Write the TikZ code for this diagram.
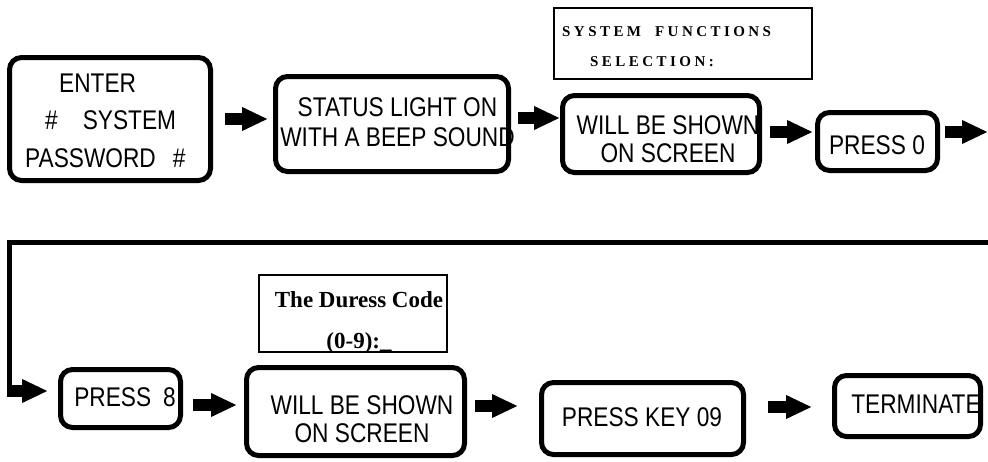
\documentclass[tikz,border=0pt]{standalone}
\usepackage{fontspec}
\usetikzlibrary{arrows.meta}
\newfontfamily\boxfont{Liberation Sans}[FakeStretch=0.84]
\newfontfamily\sysfont{Liberation Serif}[LetterSpace=23]
\newfontfamily\durfont{Liberation Serif}
\tikzset{
  rbox/.style={draw, line width=5pt, rounded corners=12pt, inner sep=0pt, outer sep=0pt},
  sbox/.style={draw, line width=2pt, inner sep=0pt, outer sep=0pt},
  btext/.style={inner sep=0pt, align=center, font=\boxfont\fontsize{27}{30}\selectfont},
  barrow/.style={line width=12.5pt, -{Triangle[length=26pt,width=22pt]}},
  loopline/.style={line width=5pt}
}
\begin{document}
\begin{tikzpicture}[x=1pt,y=-1pt]
\useasboundingbox (0,0) rectangle (988,461);
% texts
\node[btext, anchor=west, align=left, font=\boxfont\fontsize{27}{37.5}\selectfont] (t1) at (25,120.5)
  {\hspace{34pt}ENTER\\\hspace{20pt}\#\hspace{25pt}SYSTEM\\PASSWORD\hspace{17pt}\#};
\node[btext] (t2) at (397.5,122) {STATUS LIGHT ON\\WITH A BEEP SOUND};
\node[btext, font=\boxfont\fontsize{27}{28}\selectfont] (t3) at (668,139) {WILL BE SHOWN\\ON SCREEN};
\node[btext] (t4) at (877,145) {PRESS 0};
\node[inner sep=0pt, anchor=west, align=left, font=\sysfont\bfseries\fontsize{15}{30}\selectfont] (tsys) at (562,47)
  {SYSTEM\hspace{14pt}FUNCTIONS\\\hspace{28pt}SELECTION:};
\node[btext] (t5) at (125,397) {PRESS\hspace{12pt}8};
\node[inner sep=0pt, align=center, font=\durfont\bfseries\fontsize{23}{41}\selectfont] (tdur) at (359,322)
  {The Duress Code\\(0-9):\_};
\node[btext, font=\boxfont\fontsize{27}{28}\selectfont] (t6) at (362,419) {WILL BE SHOWN\\ON SCREEN};
\node[btext] (t7) at (642,417) {PRESS KEY 09};
\node[btext] (t8) at (916,404) {TERMINATE};
% boxes
\node[rbox, minimum width=201pt, minimum height=123pt] (b1) at (110,119) {};
\node[rbox, minimum width=233pt, minimum height=95pt] (b2) at (392,124) {};
\node[rbox, minimum width=197pt, minimum height=77pt] (b3) at (661,134) {};
\node[rbox, minimum width=120pt, minimum height=58pt] (b4) at (877.5,141.5) {};
\node[sbox, minimum width=258pt, minimum height=71pt] (sys) at (683,43.5) {};
\node[rbox, minimum width=120pt, minimum height=58pt] (p8) at (120.5,398.5) {};
\node[sbox, minimum width=188pt, minimum height=77pt] (dur) at (353,313.5) {};
\node[rbox, minimum width=218pt, minimum height=88pt] (w2) at (355.5,411.5) {};
\node[rbox, minimum width=202pt, minimum height=72pt] (k9) at (642.5,418.5) {};
\node[rbox, minimum width=146pt, minimum height=61pt] (tm) at (907.5,406) {};
% coordinates
\coordinate (r1) at (988,132);
\coordinate (l1) at (988,242);
\coordinate (l2) at (9.5,242);
\coordinate (l3) at (9.5,391);
% arrows row 1
\draw[barrow] ([xshift=14.5pt]b1.east) -- ([xshift=-7.5pt,yshift=5pt]b2.west);
\draw[barrow] ([xshift=9.5pt,yshift=6pt]b2.east) -- ([xshift=-2.5pt,yshift=16pt]b3.west);
\draw[barrow] ([xshift=10.5pt,yshift=2pt]b3.east) -- ([xshift=-4.5pt,yshift=9.5pt]b4.west);
\draw[barrow] ([xshift=7.5pt,yshift=9.5pt]b4.east) -- (r1);
% loop
\draw[loopline] (l1) -- (l2) -- ([yshift=2.5pt]l3);
\draw[barrow] ([xshift=-2.5pt]l3) -- ([xshift=-12.5pt,yshift=7.5pt]p8.west);
% arrows row 2
\draw[barrow] ([xshift=12.5pt,yshift=-6.5pt]p8.east) -- ([xshift=-9.5pt,yshift=6.5pt]w2.west);
\draw[barrow] ([xshift=10.5pt,yshift=5.5pt]w2.east) -- ([xshift=-23.5pt,yshift=12.5pt]k9.west);
\draw[barrow] ([xshift=24.5pt,yshift=11.5pt]k9.east) -- ([xshift=-22.5pt,yshift=-1pt]tm.west);
\end{tikzpicture}
\end{document}
